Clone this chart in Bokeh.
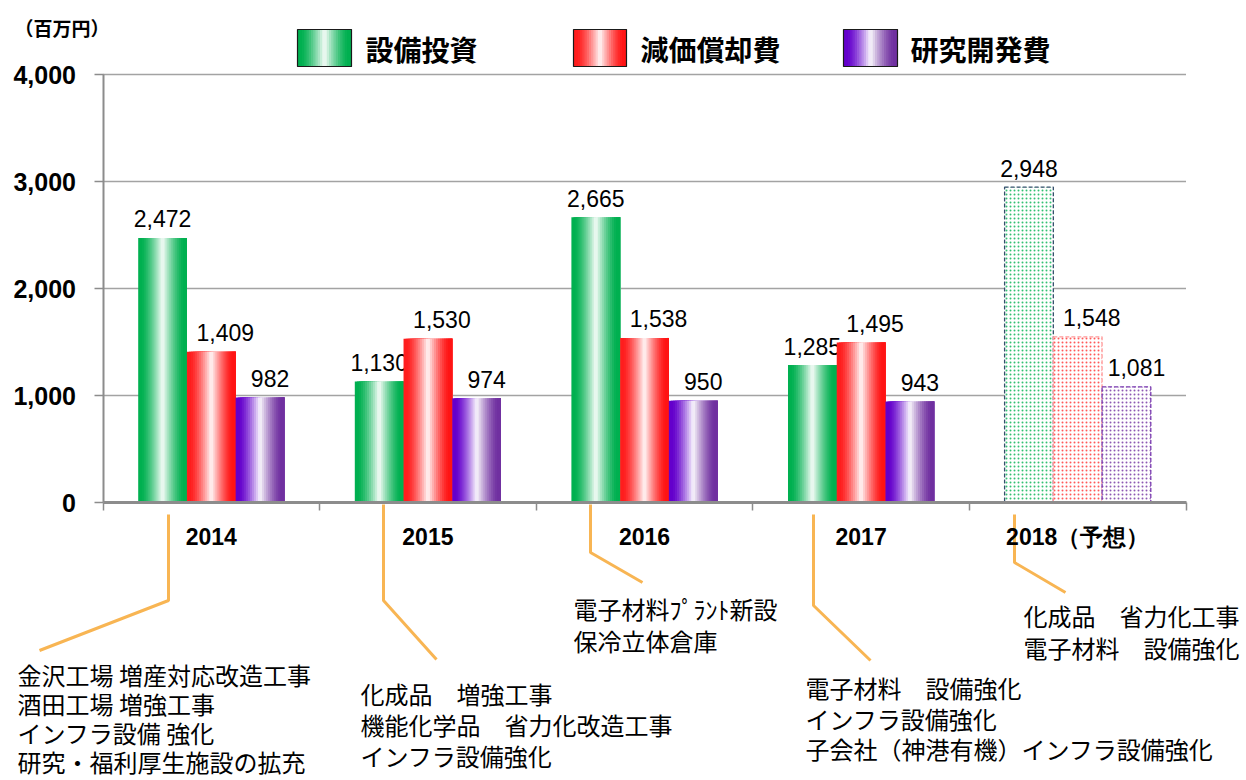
from bokeh.plotting import figure
from bokeh.models import Range1d, LinearAxis, FixedTicker, NumeralTickFormatter, ColumnDataSource
from bokeh.core.properties import value
from bokeh.embed import file_html
from bokeh.resources import INLINE

# ---------------- data ----------------
years = ["2014", "2015", "2016", "2017", "2018（予想）"]
capex = [2472, 1130, 2665, 1285, 2948]          # 設備投資
depreciation = [1409, 1530, 1538, 1495, 1548]   # 減価償却費
rnd = [982, 974, 950, 943, 1081]                # 研究開発費
series_names = ["設備投資", "減価償却費", "研究開発費"]
forecast_index = 4
y_ticks = [0, 1000, 2000, 3000, 4000]
unit_label = "（百万円）"
notes = [
    ["金沢工場 増産対応改造工事", "酒田工場 増強工事", "インフラ設備 強化", "研究・福利厚生施設の拡充"],
    ["化成品　増強工事", "機能化学品　省力化改造工事", "インフラ設備強化"],
    ["電子材料ﾌﾟﾗﾝﾄ新設", "保冷立体倉庫"],
    ["電子材料　設備強化", "インフラ設備強化", "子会社（神港有機）インフラ設備強化"],
    ["化成品　省力化工事", "電子材料　設備強化"],
]

# ---------------- layout (pixels) ----------------
W, H = 1246, 780
PAGE = 0
X_LEFT_PAGE = 102.5
CAT_PX = 216.6
Y0_PAGE = 502.0
UNIT_PX = 0.107


def dx(px):
    return 0.5 + (px - X_LEFT_PAGE) / CAT_PX


def dy(py):
    return (Y0_PAGE - py) / UNIT_PX


p = figure(width=W, height=H, output_backend="svg", toolbar_location=None,
           x_axis_type=None, y_axis_type=None,
           x_range=Range1d(dx(PAGE), dx(PAGE + W)),
           y_range=Range1d(dy(PAGE + H), dy(PAGE)),
           min_border=0, min_border_left=0, min_border_right=0,
           min_border_top=0, min_border_bottom=0)
p.title.visible = False
p.outline_line_color = None
p.background_fill_color = "white"
p.border_fill_color = "white"

# ---------------- gridlines ----------------
grid_y = [t for t in y_ticks if t > 0]
p.segment(x0=[0.5] * len(grid_y), x1=[5.5] * len(grid_y), y0=grid_y, y1=grid_y,
          line_color="#A3A3A3", line_width=1.4)

# ---------------- gradient bars ----------------
def hex2rgb(h):
    h = h.lstrip("#")
    return tuple(int(h[i:i + 2], 16) for i in (0, 2, 4))


def mix(c, f):
    r, g, b = hex2rgb(c)
    return "#%02x%02x%02x" % (round(r + (255 - r) * f), round(g + (255 - g) * f), round(b + (255 - b) * f))


def grad_color(t, cl, cr, wt=0.5, edge=0.07):
    if t <= wt:
        f = max(0.0, (t - edge) / (wt - edge))
        return mix(cl, f ** 1.4 * 0.97)
    f = max(0.0, (1 - edge - t) / (1 - edge - wt))
    return mix(cr, f ** 1.4 * 0.97)


N = 24
w = 0.225
offsets = [-w, 0.0, w]
values = [capex, depreciation, rnd]
grad_ends = [("#00B050", "#00B050"), ("#FF1E1E", "#FF1414"), ("#6400CC", "#7030A0")]
hatch_cols = ["#00B050", "#FF3030", "#7030A0"]
dash_cols = ["#34506C", "#FF9A9A", "#7A3AB0"]
label_dx = [0, 14, 10]

cats = list(range(1, len(years) + 1))
actual = [i for i in range(len(years)) if i != forecast_index]

for s in range(3):
    xs, ws, tops, cols = [], [], [], []
    for i in actual:
        c = cats[i] + offsets[s]
        L, R = c - w / 2, c + w / 2
        st = w / N
        for k in range(N):
            left = L + k * st
            xs.append((left + R) / 2)
            ws.append(R - left)
            tops.append(values[s][i])
            cols.append(grad_color((k + 0.5) / N, *grad_ends[s]))
    p.vbar(x="x", width="w", top="top", bottom=0, fill_color="c", line_color=None,
           source=ColumnDataSource(dict(x=xs, w=ws, top=tops, c=cols)))
    # forecast bar
    fi = forecast_index
    p.vbar(x=[cats[fi] + offsets[s]], width=w, top=[values[s][fi]], bottom=0,
           fill_color="white", hatch_pattern="dot", hatch_color=hatch_cols[s],
           hatch_scale=4, hatch_weight=1.2, hatch_alpha=0.8,
           line_color=dash_cols[s], line_dash="4 2", line_width=1.3)
    # data labels
    p.text(x=[cats[i] + offsets[s] for i in range(len(years))], y=values[s],
           text=[f"{v:,}" for v in values[s]], x_offset=label_dx[s], y_offset=-19,
           text_align="center", text_baseline="alphabetic",
           text_font=value("Liberation Sans"), text_font_size="23px", text_color="black")

# ---------------- axes ----------------
yaxis = LinearAxis(ticker=FixedTicker(ticks=y_ticks), formatter=NumeralTickFormatter(format="0,0"),
                   fixed_location=0.5, bounds=(0, 4000))
yaxis.axis_line_color = "#8C8C8C"
yaxis.axis_line_width = 2
yaxis.major_tick_line_color = "#8C8C8C"
yaxis.major_tick_line_width = 1.5
yaxis.major_tick_out = 9
yaxis.major_tick_in = 0
yaxis.minor_tick_out = 0
yaxis.minor_tick_in = 0
yaxis.major_label_standoff = 18
yaxis.major_label_text_font = "Liberation Sans"
yaxis.major_label_text_font_size = "25px"
yaxis.major_label_text_font_style = "bold"
yaxis.major_label_text_color = "black"
p.add_layout(yaxis, "left")

xaxis = LinearAxis(ticker=FixedTicker(ticks=cats, minor_ticks=[c - 0.5 for c in cats] + [cats[-1] + 0.5]),
                   fixed_location=0, bounds=(0.5, 5.5))
xaxis.major_label_overrides = {c: y for c, y in zip(cats, years)}
xaxis.axis_line_color = "#8C8C8C"
xaxis.axis_line_width = 3
xaxis.major_tick_out = 0
xaxis.major_tick_in = 0
xaxis.minor_tick_out = 8
xaxis.minor_tick_in = 0
xaxis.minor_tick_line_color = "#8C8C8C"
xaxis.minor_tick_line_width = 1.5
xaxis.major_label_standoff = 13
xaxis.major_label_text_font = "Liberation Sans"
xaxis.major_label_text_font_size = "23px"
xaxis.major_label_text_font_style = "bold"
xaxis.major_label_text_color = "black"
p.add_layout(xaxis, "below")

# ---------------- unit label ----------------
p.text(x=[dx(14)], y=[dy(27)], text=[unit_label], text_align="left", text_baseline="middle",
       text_font=value("Noto Sans CJK JP"), text_font_size="19px", text_font_style="bold",
       text_color="black")

# ---------------- legend ----------------
legend_boxes = [(297, 351), (573, 626), (843, 897)]
legend_text_x = [365, 640, 910]
box_top, box_bot = 29, 66
for s in range(3):
    bl, br = legend_boxes[s]
    L, R = dx(bl), dx(br)
    st = (R - L) / N
    lefts = [L + k * st for k in range(N)]
    cols = [grad_color((k + 0.5) / N, *grad_ends[s]) for k in range(N)]
    p.quad(left=lefts, right=[R] * N, top=[dy(box_top)] * N, bottom=[dy(box_bot)] * N,
           fill_color=cols, line_color=None)
    p.quad(left=[L], right=[R], top=[dy(box_top)], bottom=[dy(box_bot)],
           fill_color=None, line_color="#1A1A1A", line_width=1.2)
    p.text(x=[dx(legend_text_x[s])], y=[dy(48)], text=[series_names[s]], text_align="left",
           text_baseline="middle", text_font=value("Noto Sans CJK JP"), text_font_size="28px",
           text_font_style="bold", text_color="black")

# ---------------- leader lines and notes ----------------
leaders = [
    [(168, 514), (168, 600), (39, 650)],
    [(383, 504), (383, 600), (436, 659)],
    [(590, 504), (590, 552), (642, 582)],
    [(813, 514), (813, 605), (870, 660)],
    [(1014, 514), (1014, 562), (1065, 592)],
]
note_pos = [(17, 674, 29), (360, 693, 31), (573, 608, 32), (805, 687, 30.5), (1023, 615, 32)]
p.multi_line(xs=[[dx(a) for a, b in path] for path in leaders],
             ys=[[dy(b) for a, b in path] for path in leaders],
             line_color="#F8B553", line_width=3)
for lines, (nx, ny, sp) in zip(notes, note_pos):
    p.text(x=[dx(nx)] * len(lines), y=[dy(ny + j * sp) for j in range(len(lines))], text=lines,
           text_align="left", text_baseline="middle", text_font=value("Noto Sans CJK JP"),
           text_font_size="24px", text_color="black")

open("out.html", "w").write(file_html(p, INLINE))
